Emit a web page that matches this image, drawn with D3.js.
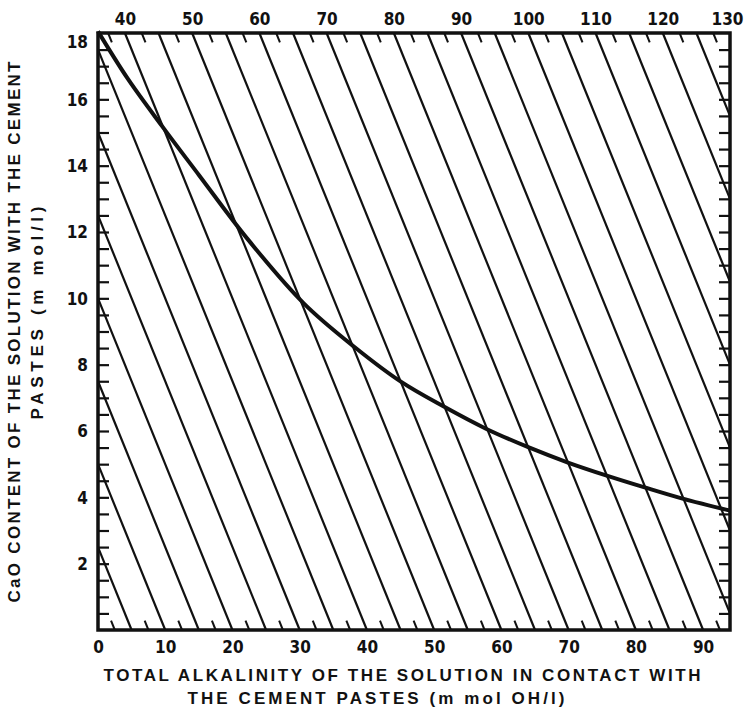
<!DOCTYPE html>
<html>
<head>
<meta charset="utf-8">
<script src="https://cdn.jsdelivr.net/npm/d3@7"></script>
<style>
  body { margin: 0; background: #fff; }
  text { fill: #111; }
  .num { font-family: "DejaVu Sans", sans-serif; font-stretch: condensed; font-weight: bold; font-size: 17px; }
  .title { font-family: "Liberation Sans", Arial, sans-serif; font-weight: bold; font-size: 17px; }
</style>
</head>
<body>
<div id="chart"></div>
<script>
// total alkalinity (m mol OH/l) vs CaO content (m mol/l)
const alkalinity = [0, 4.5, 9.5, 15, 22.2, 30.6, 38.1, 45.1, 51.5, 57.7, 63.9, 69.9, 75.9, 81.3, 86.8, 94];
const caoContent = [18.05, 16.6, 15.2, 13.72, 11.8, 9.85, 8.54, 7.48, 6.73, 6.07, 5.52, 5.05, 4.64, 4.3, 3.97, 3.6];

// iso-lines of alkalinity + 2 * CaO
const isoValues = [5, 10, 15, 20, 25, 30, 35, 40, 45, 50, 55, 60, 65, 70, 75, 80, 85, 90, 95, 100, 105, 110, 115, 120, 125];
const isoHalfBottom = [2.5, 7.5, 12.5, 17.5, 22.5, 27.5, 32.5, 37.5, 42.5, 47.5, 52.5, 57.5, 62.5, 67.5, 72.5, 77.5, 82.5, 87.5, 92.5];
const isoHalfTop = [37.5, 42.5, 47.5, 52.5, 57.5, 62.5, 67.5, 72.5, 77.5, 82.5, 87.5, 92.5, 97.5, 102.5, 107.5, 112.5, 117.5, 122.5, 127.5];

const xTicks = [0, 10, 20, 30, 40, 50, 60, 70, 80, 90];
const yTicks = [2, 4, 6, 8, 10, 12, 14, 16, 18];
const topTicks = [40, 50, 60, 70, 80, 90, 100, 110, 120, 130];

const xMax = 94, yMax = 18;

let svg = d3.select("#chart")
    .append("svg")
    .attr("width", 744)
    .attr("height", 715);

let x = d3.scaleLinear().domain([0, xMax]).range([98, 730]);
let y = d3.scaleLinear().domain([0, yMax]).range([630, 33]);
let xTop = d3.scaleLinear().domain([2 * yMax, xMax + 2 * yMax]).range([98, 730]);

// ends of the line x + 2y = c inside the frame
let isoEnds = (c) => {
    let p1 = c <= 2 * yMax ? [0, c / 2] : [c - 2 * yMax, yMax];
    let p2 = c <= xMax ? [c, 0] : [xMax, (c - xMax) / 2];
    return [p1, p2];
};

svg.append("g")
    .selectAll("line")
    .data(isoValues)
    .enter()
    .append("line")
    .attr("x1", d => x(isoEnds(d)[0][0]))
    .attr("y1", d => y(isoEnds(d)[0][1]))
    .attr("x2", d => x(isoEnds(d)[1][0]))
    .attr("y2", d => y(isoEnds(d)[1][1]))
    .attr("stroke", "#111")
    .attr("stroke-width", 2.2);

// unit direction along the iso-lines (down-right) in pixels
let dxPx = x(2) - x(0), dyPx = y(0) - y(1);
let len = Math.hypot(dxPx, dyPx);
let ux = dxPx / len, uy = dyPx / len;
let tickLen = 10;

svg.append("g")
    .selectAll("line")
    .data(isoHalfBottom)
    .enter()
    .append("line")
    .attr("x1", d => x(d))
    .attr("y1", y(0))
    .attr("x2", d => x(d) - ux * tickLen)
    .attr("y2", y(0) - uy * tickLen)
    .attr("stroke", "#111")
    .attr("stroke-width", 2);

svg.append("g")
    .selectAll("line")
    .data(isoHalfTop)
    .enter()
    .append("line")
    .attr("x1", d => xTop(d))
    .attr("y1", y(yMax))
    .attr("x2", d => xTop(d) + ux * tickLen)
    .attr("y2", y(yMax) + uy * tickLen)
    .attr("stroke", "#111")
    .attr("stroke-width", 2);

// inner ticks on left and right edges
let halfSteps = d3.range(0.5, yMax, 0.5);

svg.append("g")
    .attr("transform", "translate(" + x(0) + ",0)")
    .call(d3.axisRight(y).tickValues(halfSteps).tickSize(11).tickFormat(""))
    .call(g => g.select(".domain").remove())
    .selectAll("line").attr("stroke", "#111").attr("stroke-width", 2.2);

svg.append("g")
    .attr("transform", "translate(" + x(xMax) + ",0)")
    .call(d3.axisLeft(y).tickValues(halfSteps).tickSize(11).tickFormat(""))
    .call(g => g.select(".domain").remove())
    .selectAll("line").attr("stroke", "#111").attr("stroke-width", 2.2);

// curve
let line = d3.line()
    .x(d => x(d[0]))
    .y(d => y(d[1]))
    .curve(d3.curveCatmullRom);

svg.append("path")
    .datum(alkalinity.map((a, i) => [a, caoContent[i]]))
    .attr("d", line)
    .attr("fill", "none")
    .attr("stroke", "#111")
    .attr("stroke-width", 4);

// frame
svg.append("rect")
    .attr("x", x(0))
    .attr("y", y(yMax))
    .attr("width", x(xMax) - x(0))
    .attr("height", y(0) - y(yMax))
    .attr("fill", "none")
    .attr("stroke", "#111")
    .attr("stroke-width", 3.5);

// tick labels
let bottomAxis = svg.append("g")
    .attr("transform", "translate(0," + y(0) + ")")
    .call(d3.axisBottom(x).tickValues(xTicks).tickSize(0).tickPadding(11));

let topAxis = svg.append("g")
    .attr("transform", "translate(0," + y(yMax) + ")")
    .call(d3.axisTop(xTop).tickValues(topTicks).tickSize(0).tickPadding(8));
topAxis.selectAll("text")
    .attr("text-anchor", d => d === 130 ? "end" : "middle")
    .attr("dx", d => d === 130 ? "13" : "0");

let leftAxis = svg.append("g")
    .attr("transform", "translate(" + x(0) + ",0)")
    .call(d3.axisLeft(y).tickValues(yTicks).tickSize(0).tickPadding(10));
leftAxis.selectAll("text")
    .attr("dy", d => d === 18 ? "0.85em" : "0.35em");

[bottomAxis, topAxis, leftAxis].forEach(a => {
    a.select(".domain").remove();
    a.attr("font-family", null).attr("font-size", null);
    a.selectAll("text").attr("class", "num");
});

// axis titles
let titles = [
    {t: "TOTAL ALKALINITY OF THE SOLUTION IN CONTACT WITH", tr: "translate(402,681)", w: 597},
    {t: "THE CEMENT PASTES (m mol OH/l)", tr: "translate(376,704)", w: 377},
    {t: "CaO CONTENT OF THE SOLUTION WITH THE CEMENT", tr: "translate(20,332) rotate(-90)", w: 541},
    {t: "PASTES (m mol/l)", tr: "translate(43,313) rotate(-90)", w: 213}
];

svg.selectAll("text.title")
    .data(titles)
    .enter()
    .append("text")
    .attr("class", "title")
    .attr("transform", d => d.tr)
    .attr("text-anchor", "middle")
    .attr("textLength", d => d.w)
    .attr("lengthAdjust", "spacing")
    .text(d => d.t);
</script>
</body>
</html>
